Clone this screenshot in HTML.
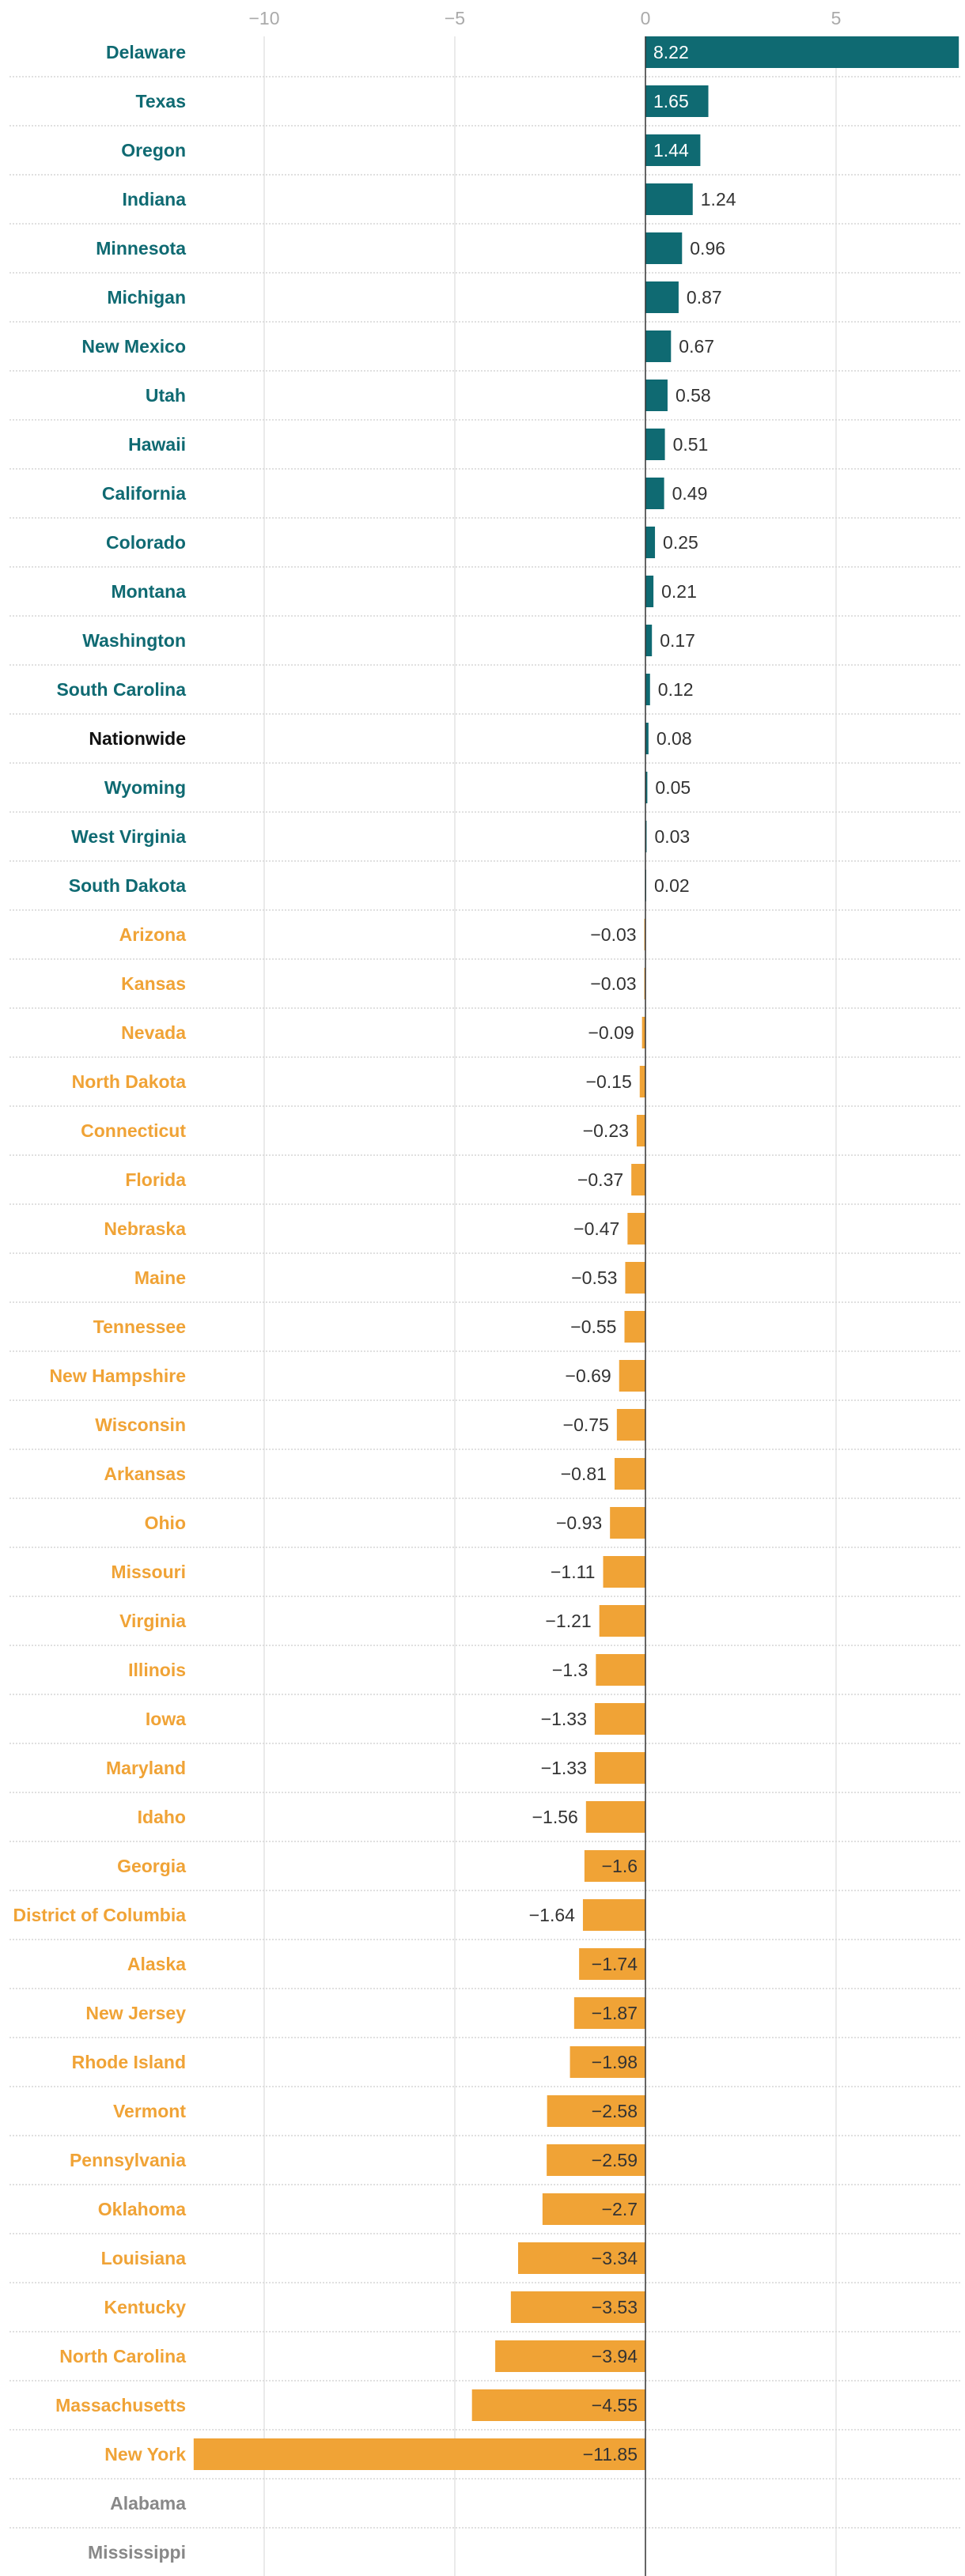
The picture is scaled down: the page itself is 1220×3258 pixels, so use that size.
<!DOCTYPE html>
<html><head><meta charset="utf-8">
<style>
html,body{margin:0;padding:0;background:#fff;}
svg{display:block;font-family:"Liberation Sans",sans-serif;}
</style></head>
<body>
<svg id="chart" width="1220" height="3258" viewBox="0 0 1220 3258" xmlns="http://www.w3.org/2000/svg"></svg>
<script>
const states = ["Delaware","Texas","Oregon","Indiana","Minnesota","Michigan","New Mexico","Utah","Hawaii","California","Colorado","Montana","Washington","South Carolina","Nationwide","Wyoming","West Virginia","South Dakota","Arizona","Kansas","Nevada","North Dakota","Connecticut","Florida","Nebraska","Maine","Tennessee","New Hampshire","Wisconsin","Arkansas","Ohio","Missouri","Virginia","Illinois","Iowa","Maryland","Idaho","Georgia","District of Columbia","Alaska","New Jersey","Rhode Island","Vermont","Pennsylvania","Oklahoma","Louisiana","Kentucky","North Carolina","Massachusetts","New York","Alabama","Mississippi"];
const values = [8.22,1.65,1.44,1.24,0.96,0.87,0.67,0.58,0.51,0.49,0.25,0.21,0.17,0.12,0.08,0.05,0.03,0.02,-0.03,-0.03,-0.09,-0.15,-0.23,-0.37,-0.47,-0.53,-0.55,-0.69,-0.75,-0.81,-0.93,-1.11,-1.21,-1.3,-1.33,-1.33,-1.56,-1.6,-1.64,-1.74,-1.87,-1.98,-2.58,-2.59,-2.7,-3.34,-3.53,-3.94,-4.55,-11.85,null,null];
const ticks = [-10,-5,0,5];

const svg = document.getElementById('chart');
const NS = "http://www.w3.org/2000/svg";
const x0 = 816, pxPerUnit = 48.2;
const x = v => x0 + v * pxPerUnit;
const rowC = i => 66 + 62 * i;
const teal = "#0f6a72", orange = "#f0a336";
const fmt = v => (v < 0 ? "\u2212" : "") + String(Math.abs(v));
function mk(tag, attrs){ const e = document.createElementNS(NS, tag); for (const k in attrs) e.setAttribute(k, attrs[k]); svg.appendChild(e); return e; }

// gridlines and tick labels
ticks.forEach(t => {
  if (t !== 0) {
    const g = mk('line', {x1:x(t), x2:x(t), y1:46, y2:3258, stroke:"#e3e3e3", "stroke-width":1.5});
    
    
  }
  const tl = mk('text', {x:x(t), y:31, "text-anchor":"middle", "font-size":23, fill:"#aaa"});
  tl.textContent = fmt(t);
  
  
});

// row separators
for (let i = 0; i < states.length - 1; i++) {
  const y = rowC(i) + 31;
  const s = mk('line', {x1:12, x2:1214, y1:y, y2:y, stroke:"#d6d6d6", "stroke-width":1.5, "stroke-dasharray":"2,2"});
  
  
}

states.forEach((name, i) => {
  const v = values[i];
  const c = rowC(i);
  let col = v === null ? "#888" : (v >= 0 ? teal : orange);
  if (name === "Nationwide") col = "#111";
  const lab = mk('text', {x:235, y:c + 8, "text-anchor":"end", "font-size":23, "font-weight":"bold", fill:col});
  lab.textContent = name;
  
  
  if (v === null) return;
  const barCol = v >= 0 ? teal : orange;
  const bx = Math.min(x(0), x(v)), bw = Math.abs(x(v) - x(0));
  const bar = mk('rect', {x:bx, y:c - 20, width:bw, height:40, fill:barCol});
  
  
  const txt = fmt(v);
  const inside = bw >= txt.length * 12 + 20;
  let tx, anchor, fill;
  if (v >= 0) {
    if (inside) { tx = x(0) + 10; anchor = "start"; fill = "#fff"; }
    else { tx = x(v) + 10; anchor = "start"; fill = "#333"; }
  } else {
    if (inside) { tx = x(0) - 10; anchor = "end"; fill = "#333"; }
    else { tx = x(v) - 10; anchor = "end"; fill = "#333"; }
  }
  const vl = mk('text', {x:tx, y:c + 8, "text-anchor":anchor, "font-size":23, fill:fill});
  vl.textContent = txt;
  
  
});

// zero line
const z = mk('line', {x1:x(0), x2:x(0), y1:46, y2:3258, stroke:"#333", "stroke-width":1.5});


</script>
</body></html>
